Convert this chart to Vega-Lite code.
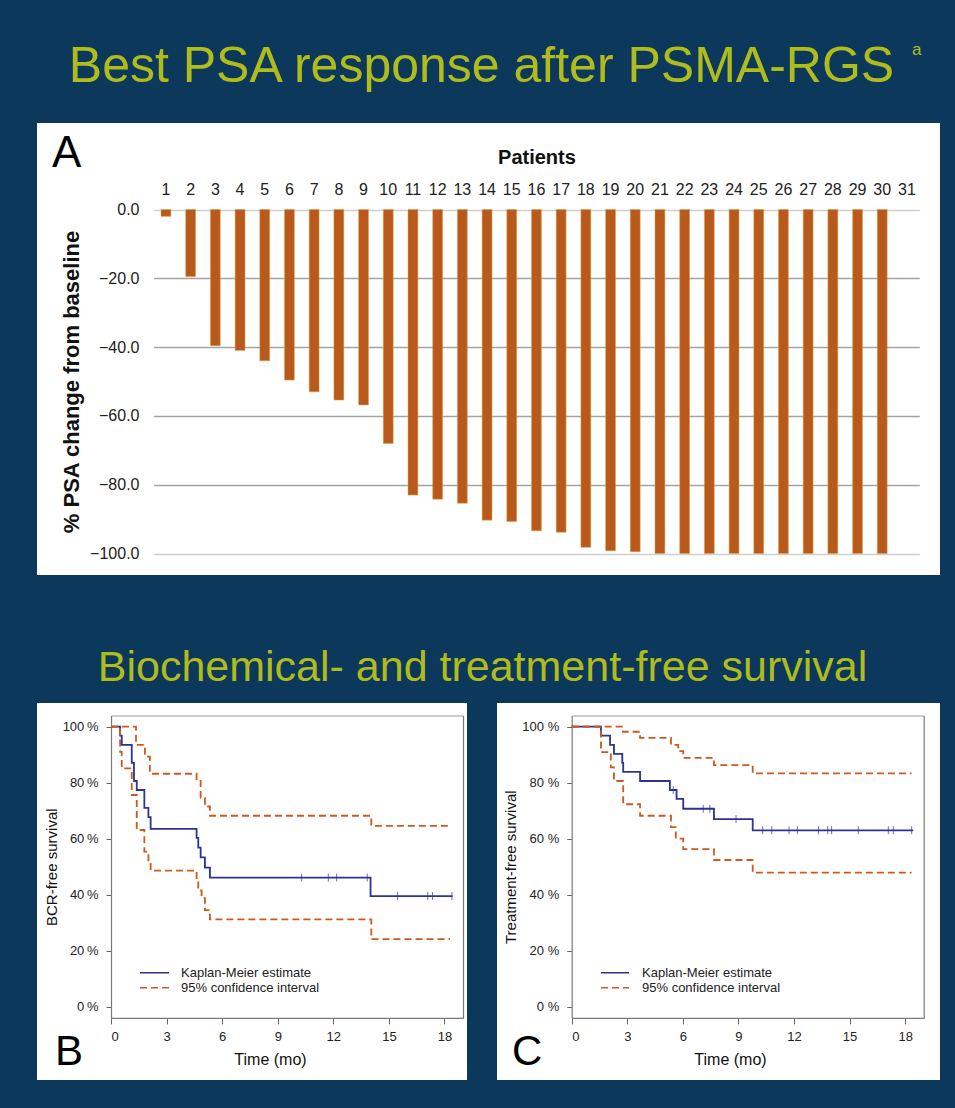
{
  "$schema": "https://vega.github.io/schema/vega-lite/v6.json",
  "background": "#0c395b",
  "padding": {"left": 37, "top": 41, "right": 15, "bottom": 28},
  "config": {
    "font": "Liberation Sans",
    "view": {"stroke": null, "fill": "white"},
    "title": {"font": "Liberation Sans"}
  },
  "title": {"text": "a", "fontSize": 17, "fontWeight": "normal", "color": "#b0bc1c", "anchor": "start", "frame": "bounds", "baseline": "alphabetic", "offset": -30, "dx": 875},
  "spacing": 72,
  "vconcat": [
    {
      "title": {"text": "Best PSA response after PSMA-RGS", "fontSize": 50, "fontWeight": "normal", "color": "#b0bc1c", "anchor": "middle", "frame": "bounds", "baseline": "alphabetic", "offset": -9, "dx": -7},
      "vconcat": [
        {
          "width": 903,
          "height": 452,
          "title": {"text": "A", "fontSize": 44, "fontWeight": "normal", "color": "#000000", "anchor": "start", "frame": "group", "baseline": "alphabetic", "offset": -88, "dx": 15},
          "data": {"values": [
            {"patient": 1, "pct": -2.0}, {"patient": 2, "pct": -19.5}, {"patient": 3, "pct": -39.6},
            {"patient": 4, "pct": -41.0}, {"patient": 5, "pct": -44.0}, {"patient": 6, "pct": -49.6},
            {"patient": 7, "pct": -53.0}, {"patient": 8, "pct": -55.4}, {"patient": 9, "pct": -56.8},
            {"patient": 10, "pct": -68.0}, {"patient": 11, "pct": -83.0}, {"patient": 12, "pct": -84.2},
            {"patient": 13, "pct": -85.4}, {"patient": 14, "pct": -90.3}, {"patient": 15, "pct": -90.7},
            {"patient": 16, "pct": -93.4}, {"patient": 17, "pct": -93.8}, {"patient": 18, "pct": -98.2},
            {"patient": 19, "pct": -99.2}, {"patient": 20, "pct": -99.5}, {"patient": 21, "pct": -100},
            {"patient": 22, "pct": -100}, {"patient": 23, "pct": -100}, {"patient": 24, "pct": -100},
            {"patient": 25, "pct": -100}, {"patient": 26, "pct": -100}, {"patient": 27, "pct": -100},
            {"patient": 28, "pct": -100}, {"patient": 29, "pct": -100}, {"patient": 30, "pct": -100}
          ]},
          "mark": {"type": "bar", "color": "#b95a1c", "stroke": "#d9a441", "strokeWidth": 0.5},
          "encoding": {
            "x": {
              "field": "patient", "type": "ordinal",
              "scale": {"domain": [1,2,3,4,5,6,7,8,9,10,11,12,13,14,15,16,17,18,19,20,21,22,23,24,25,26,27,28,29,30,31], "range": [116.6, 882.3], "paddingInner": 0.6, "paddingOuter": 0.3},
              "axis": {"orient": "top", "offset": -86.5, "labelAngle": 0, "ticks": false, "domain": false, "grid": false, "labelFontSize": 16, "labelColor": "#222222", "labelPadding": 12, "title": "Patients", "titleFontSize": 20, "titleFontWeight": "bold", "titleColor": "#111111", "titlePadding": 14}
            },
            "y": {
              "field": "pct", "type": "quantitative",
              "scale": {"domain": [-100, 0], "range": [430.5, 86.5], "nice": false},
              "axis": {"orient": "left", "offset": -110, "values": [-100, -80, -60, -40, -20, 0], "format": ".1f", "ticks": false, "domain": false, "labelFontSize": 16, "labelColor": "#222222", "labelPadding": 8, "grid": true, "gridColor": {"condition": {"test": "datum.value === 0 || datum.value === -100", "value": "#cfcfcf"}, "value": "#a3a3a3"}, "gridWidth": 1.3, "title": "% PSA change from baseline", "titleFontSize": 22, "titleFontWeight": "bold", "titleColor": "#111111", "titlePadding": 6}
            }
          }
        }
      ]
    },
    {
      "title": {"text": "Biochemical- and treatment-free survival", "fontSize": 43, "fontWeight": "normal", "color": "#b0bc1c", "anchor": "middle", "frame": "bounds", "baseline": "alphabetic", "offset": -21, "dx": -6},
      "spacing": 30,
      "resolve": {"scale": {"color": "independent", "strokeDash": "independent"}, "legend": {"color": "independent", "strokeDash": "independent"}},
      "hconcat": [
        {
          "width": 430,
          "height": 377,
          "title": {"text": "B", "orient": "bottom", "fontSize": 42, "fontWeight": "normal", "color": "#000000", "anchor": "start", "frame": "group", "baseline": "alphabetic", "offset": -15, "dx": 18},
          "resolve": {"axis": {"x": "independent", "y": "independent"}},
          "layer": [
            {
              "data": {"values": [
                {"series": "km", "group": "Kaplan-Meier estimate", "t": 0, "s": 100},
                {"series": "km", "group": "Kaplan-Meier estimate", "t": 0.49, "s": 96.8},
                {"series": "km", "group": "Kaplan-Meier estimate", "t": 0.58, "s": 93.5},
                {"series": "km", "group": "Kaplan-Meier estimate", "t": 1.12, "s": 87.1},
                {"series": "km", "group": "Kaplan-Meier estimate", "t": 1.24, "s": 80.6},
                {"series": "km", "group": "Kaplan-Meier estimate", "t": 1.39, "s": 77.4},
                {"series": "km", "group": "Kaplan-Meier estimate", "t": 1.80, "s": 71.0},
                {"series": "km", "group": "Kaplan-Meier estimate", "t": 2.02, "s": 67.7},
                {"series": "km", "group": "Kaplan-Meier estimate", "t": 2.14, "s": 63.5},
                {"series": "km", "group": "Kaplan-Meier estimate", "t": 4.62, "s": 60.3},
                {"series": "km", "group": "Kaplan-Meier estimate", "t": 4.71, "s": 56.8},
                {"series": "km", "group": "Kaplan-Meier estimate", "t": 4.84, "s": 53.3},
                {"series": "km", "group": "Kaplan-Meier estimate", "t": 5.07, "s": 49.7},
                {"series": "km", "group": "Kaplan-Meier estimate", "t": 5.34, "s": 46.1},
                {"series": "km", "group": "Kaplan-Meier estimate", "t": 14.01, "s": 39.5},
                {"series": "km", "group": "Kaplan-Meier estimate", "t": 18.44, "s": 39.5},
                {"series": "upper", "group": "95% confidence interval", "t": 0, "s": 100},
                {"series": "upper", "group": "95% confidence interval", "t": 1.35, "s": 93.5},
                {"series": "upper", "group": "95% confidence interval", "t": 1.83, "s": 89.3},
                {"series": "upper", "group": "95% confidence interval", "t": 2.10, "s": 83.2},
                {"series": "upper", "group": "95% confidence interval", "t": 4.62, "s": 80.6},
                {"series": "upper", "group": "95% confidence interval", "t": 4.84, "s": 74.6},
                {"series": "upper", "group": "95% confidence interval", "t": 5.07, "s": 71.5},
                {"series": "upper", "group": "95% confidence interval", "t": 5.34, "s": 68.2},
                {"series": "upper", "group": "95% confidence interval", "t": 14.05, "s": 64.6},
                {"series": "upper", "group": "95% confidence interval", "t": 18.40, "s": 64.6},
                {"series": "lower", "group": "95% confidence interval", "t": 0, "s": 100},
                {"series": "lower", "group": "95% confidence interval", "t": 0.49, "s": 91.0},
                {"series": "lower", "group": "95% confidence interval", "t": 0.58, "s": 85.1},
                {"series": "lower", "group": "95% confidence interval", "t": 1.12, "s": 75.6},
                {"series": "lower", "group": "95% confidence interval", "t": 1.39, "s": 63.1},
                {"series": "lower", "group": "95% confidence interval", "t": 1.80, "s": 55.4},
                {"series": "lower", "group": "95% confidence interval", "t": 2.02, "s": 51.8},
                {"series": "lower", "group": "95% confidence interval", "t": 2.14, "s": 48.6},
                {"series": "lower", "group": "95% confidence interval", "t": 4.62, "s": 45.0},
                {"series": "lower", "group": "95% confidence interval", "t": 4.71, "s": 41.5},
                {"series": "lower", "group": "95% confidence interval", "t": 4.89, "s": 38.8},
                {"series": "lower", "group": "95% confidence interval", "t": 5.07, "s": 34.5},
                {"series": "lower", "group": "95% confidence interval", "t": 5.34, "s": 31.2},
                {"series": "lower", "group": "95% confidence interval", "t": 14.05, "s": 24.1},
                {"series": "lower", "group": "95% confidence interval", "t": 18.30, "s": 24.1}
              ]},
              "mark": {"type": "line", "interpolate": "step-after", "strokeWidth": 1.8},
              "encoding": {
                "x": {"field": "t", "type": "quantitative",
                  "scale": {"domain": [0, 19], "range": [74, 426], "nice": false, "zero": false},
                  "axis": {"orient": "bottom", "offset": -62.1, "values": [0, 3, 6, 9, 12, 15, 18], "grid": false, "tickSize": 6, "tickColor": "#666666", "domainColor": "#7a7a7a", "domainWidth": 1.2, "labelFontSize": 13, "labelColor": "#222222", "labelPadding": 7, "title": "Time (mo)", "titleFontSize": 16, "titleFontWeight": "normal", "titleColor": "#111111", "titleX": 233, "titleY": 47, "titleBaseline": "alphabetic"}},
                "y": {"field": "s", "type": "quantitative",
                  "scale": {"domain": [-4, 104], "range": [314.9, 12.5], "nice": false, "zero": false},
                  "axis": {"orient": "left", "offset": -74, "values": [0, 20, 40, 60, 80, 100], "labelExpr": "datum.value + '\u2009%'", "grid": false, "tickSize": 5, "tickColor": "#666666", "domainColor": "#7a7a7a", "domainWidth": 1.2, "labelFontSize": 13, "labelColor": "#222222", "labelPadding": 8, "title": "BCR-free survival", "titleFontSize": 15, "titleFontWeight": "normal", "titleColor": "#111111", "titlePadding": 3}},
                "color": {"field": "group", "type": "nominal",
                  "scale": {"domain": ["Kaplan-Meier estimate", "95% confidence interval"], "range": ["#2d3296", "#cc5a1f"]},
                  "legend": {"orient": "none", "legendX": 102, "legendY": 262.4, "title": null, "symbolType": "stroke", "symbolSize": 841, "symbolStrokeWidth": 1.6, "clipHeight": 14.6, "rowPadding": 0, "padding": 0, "labelOffset": 11, "labelFontSize": 13, "labelColor": "#222222"}},
                "strokeDash": {"field": "group", "type": "nominal",
                  "scale": {"domain": ["Kaplan-Meier estimate", "95% confidence interval"], "range": [[1, 0], [7, 4]]},
                  "legend": {"orient": "none", "legendX": 102, "legendY": 262.4, "title": null, "symbolType": "stroke", "symbolSize": 841, "symbolStrokeWidth": 1.6, "clipHeight": 14.6, "rowPadding": 0, "padding": 0, "labelOffset": 11, "labelFontSize": 13, "labelColor": "#222222"}},
                "detail": {"field": "series", "type": "nominal"}
              }
            },
            {
              "data": {"values": [
                {"t": 10.29, "s": 46.1}, {"t": 11.73, "s": 46.1}, {"t": 12.18, "s": 46.1}, {"t": 13.83, "s": 46.1},
                {"t": 15.47, "s": 39.5}, {"t": 17.10, "s": 39.5}, {"t": 17.35, "s": 39.5}, {"t": 18.40, "s": 39.5}
              ]},
              "mark": {"type": "tick", "orient": "vertical", "color": "#2d3296", "thickness": 1, "size": 8},
              "encoding": {
                "x": {"field": "t", "type": "quantitative", "axis": {"orient": "top", "offset": -12.5, "labels": false, "ticks": false, "grid": false, "title": null, "domainColor": "#9a9a9a", "domainWidth": 1.2}},
                "y": {"field": "s", "type": "quantitative", "axis": {"orient": "right", "offset": -4, "labels": false, "ticks": false, "grid": false, "title": null, "domainColor": "#7a7a7a", "domainWidth": 1.2}}
              }
            }
          ]
        },
        {
          "width": 443,
          "height": 377,
          "title": {"text": "C", "orient": "bottom", "fontSize": 42, "fontWeight": "normal", "color": "#000000", "anchor": "start", "frame": "group", "baseline": "alphabetic", "offset": -15, "dx": 15},
          "resolve": {"axis": {"x": "independent", "y": "independent"}},
          "layer": [
            {
              "data": {"values": [
                {"series": "km", "group": "Kaplan-Meier estimate", "t": 0, "s": 100},
                {"series": "km", "group": "Kaplan-Meier estimate", "t": 1.58, "s": 96.8},
                {"series": "km", "group": "Kaplan-Meier estimate", "t": 2.07, "s": 93.5},
                {"series": "km", "group": "Kaplan-Meier estimate", "t": 2.28, "s": 90.3},
                {"series": "km", "group": "Kaplan-Meier estimate", "t": 2.73, "s": 87.1},
                {"series": "km", "group": "Kaplan-Meier estimate", "t": 2.78, "s": 83.9},
                {"series": "km", "group": "Kaplan-Meier estimate", "t": 3.69, "s": 80.6},
                {"series": "km", "group": "Kaplan-Meier estimate", "t": 5.30, "s": 77.4},
                {"series": "km", "group": "Kaplan-Meier estimate", "t": 5.66, "s": 74.2},
                {"series": "km", "group": "Kaplan-Meier estimate", "t": 6.02, "s": 70.7},
                {"series": "km", "group": "Kaplan-Meier estimate", "t": 7.68, "s": 67.0},
                {"series": "km", "group": "Kaplan-Meier estimate", "t": 9.77, "s": 63.0},
                {"series": "km", "group": "Kaplan-Meier estimate", "t": 18.44, "s": 63.0},
                {"series": "upper", "group": "95% confidence interval", "t": 0, "s": 100},
                {"series": "upper", "group": "95% confidence interval", "t": 2.76, "s": 98.2},
                {"series": "upper", "group": "95% confidence interval", "t": 3.69, "s": 96.0},
                {"series": "upper", "group": "95% confidence interval", "t": 5.36, "s": 93.5},
                {"series": "upper", "group": "95% confidence interval", "t": 5.75, "s": 91.3},
                {"series": "upper", "group": "95% confidence interval", "t": 6.02, "s": 88.9},
                {"series": "upper", "group": "95% confidence interval", "t": 7.68, "s": 86.3},
                {"series": "upper", "group": "95% confidence interval", "t": 9.77, "s": 83.3},
                {"series": "upper", "group": "95% confidence interval", "t": 18.35, "s": 83.3},
                {"series": "lower", "group": "95% confidence interval", "t": 0, "s": 100},
                {"series": "lower", "group": "95% confidence interval", "t": 1.58, "s": 90.9},
                {"series": "lower", "group": "95% confidence interval", "t": 2.11, "s": 85.5},
                {"series": "lower", "group": "95% confidence interval", "t": 2.28, "s": 80.6},
                {"series": "lower", "group": "95% confidence interval", "t": 2.78, "s": 72.3},
                {"series": "lower", "group": "95% confidence interval", "t": 3.69, "s": 68.2},
                {"series": "lower", "group": "95% confidence interval", "t": 5.36, "s": 64.1},
                {"series": "lower", "group": "95% confidence interval", "t": 5.62, "s": 60.0},
                {"series": "lower", "group": "95% confidence interval", "t": 6.02, "s": 56.3},
                {"series": "lower", "group": "95% confidence interval", "t": 7.68, "s": 52.4},
                {"series": "lower", "group": "95% confidence interval", "t": 9.77, "s": 47.9},
                {"series": "lower", "group": "95% confidence interval", "t": 18.35, "s": 47.9}
              ]},
              "mark": {"type": "line", "interpolate": "step-after", "strokeWidth": 1.8},
              "encoding": {
                "x": {"field": "t", "type": "quantitative",
                  "scale": {"domain": [0, 19], "range": [74.7, 426.7], "nice": false, "zero": false},
                  "axis": {"orient": "bottom", "offset": -62.1, "values": [0, 3, 6, 9, 12, 15, 18], "grid": false, "tickSize": 6, "tickColor": "#666666", "domainColor": "#7a7a7a", "domainWidth": 1.2, "labelFontSize": 13, "labelColor": "#222222", "labelPadding": 7, "title": "Time (mo)", "titleFontSize": 16, "titleFontWeight": "normal", "titleColor": "#111111", "titleX": 233, "titleY": 47, "titleBaseline": "alphabetic"}},
                "y": {"field": "s", "type": "quantitative",
                  "scale": {"domain": [-4, 104], "range": [314.9, 12.5], "nice": false, "zero": false},
                  "axis": {"orient": "left", "offset": -74.7, "values": [0, 20, 40, 60, 80, 100], "labelExpr": "datum.value + ' %'", "grid": false, "tickSize": 5, "tickColor": "#666666", "domainColor": "#7a7a7a", "domainWidth": 1.2, "labelFontSize": 13, "labelColor": "#222222", "labelPadding": 8, "title": "Treatment-free survival", "titleFontSize": 15, "titleFontWeight": "normal", "titleColor": "#111111", "titlePadding": 3}},
                "color": {"field": "group", "type": "nominal",
                  "scale": {"domain": ["Kaplan-Meier estimate", "95% confidence interval"], "range": ["#2d3296", "#cc5a1f"]},
                  "legend": {"orient": "none", "legendX": 103, "legendY": 262.4, "title": null, "symbolType": "stroke", "symbolSize": 784, "symbolStrokeWidth": 1.4, "clipHeight": 14.6, "rowPadding": 0, "padding": 0, "labelOffset": 12, "labelFontSize": 13, "labelColor": "#222222"}},
                "strokeDash": {"field": "group", "type": "nominal",
                  "scale": {"domain": ["Kaplan-Meier estimate", "95% confidence interval"], "range": [[1, 0], [7, 4]]},
                  "legend": {"orient": "none", "legendX": 103, "legendY": 262.4, "title": null, "symbolType": "stroke", "symbolSize": 784, "symbolStrokeWidth": 1.4, "clipHeight": 14.6, "rowPadding": 0, "padding": 0, "labelOffset": 12, "labelFontSize": 13, "labelColor": "#222222"}},
                "detail": {"field": "series", "type": "nominal"}
              }
            },
            {
              "data": {"values": [
                {"t": 5.48, "s": 77.4}, {"t": 7.10, "s": 70.7}, {"t": 7.46, "s": 70.7}, {"t": 8.87, "s": 67.0},
                {"t": 10.31, "s": 63.0}, {"t": 10.80, "s": 63.0}, {"t": 11.73, "s": 63.0}, {"t": 12.18, "s": 63.0},
                {"t": 13.32, "s": 63.0}, {"t": 13.82, "s": 63.0}, {"t": 14.03, "s": 63.0}, {"t": 15.47, "s": 63.0},
                {"t": 17.09, "s": 63.0}, {"t": 17.36, "s": 63.0}, {"t": 18.35, "s": 63.0}
              ]},
              "mark": {"type": "tick", "orient": "vertical", "color": "#2d3296", "thickness": 1, "size": 8},
              "encoding": {
                "x": {"field": "t", "type": "quantitative", "axis": {"orient": "top", "offset": -12.5, "labels": false, "ticks": false, "grid": false, "title": null, "domainColor": "#9a9a9a", "domainWidth": 1.2}},
                "y": {"field": "s", "type": "quantitative", "axis": {"orient": "right", "offset": -16.3, "labels": false, "ticks": false, "grid": false, "title": null, "domainColor": "#7a7a7a", "domainWidth": 1.2}}
              }
            }
          ]
        }
      ]
    }
  ]
}
